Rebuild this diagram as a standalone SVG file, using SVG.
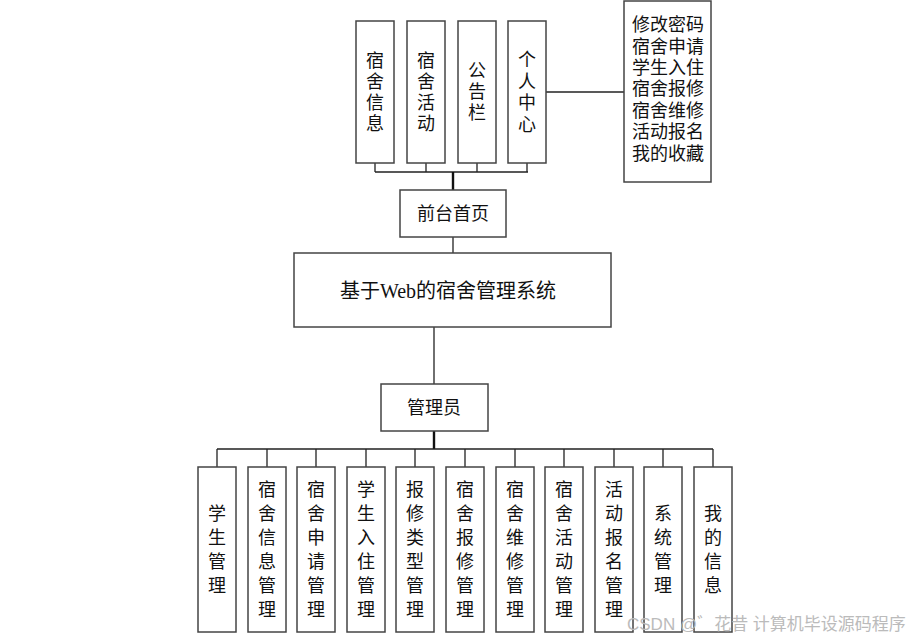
<svg xmlns="http://www.w3.org/2000/svg" width="920" height="640" viewBox="0 0 920 640">
<style>
.box{fill:#fff;stroke:#444;stroke-width:1.5}
.ln{fill:none;stroke:#222;stroke-width:1.3}
.thick{fill:none;stroke:#111;stroke-width:2.4}
text{font-family:"Liberation Serif","Noto Sans CJK SC",serif;fill:#111;text-anchor:middle}
.v{font-size:18px}
.h{font-size:18px}
.wm{font-family:"Liberation Sans","Noto Sans CJK SC",sans-serif;font-size:17px;fill:#bbb;text-anchor:start}
</style>
<rect width="920" height="640" fill="#fff"/>
<g id="connectors">
<path class="ln" d="M375 163V172M426 163V172M477 163V172M527 163V172M375 172H528"/>
<path class="thick" d="M453 172V190"/>
<path class="ln" d="M546 92H624"/>
<path class="ln" d="M453 237V253"/>
<path class="ln" d="M434 327V384"/>
<path class="thick" d="M434 431V449"/>
<path class="ln" d="M217 449H713M217 449V467M267 449V467M316 449V467M366 449V467M415 449V467M465 449V467M515 449V467M564 449V467M614 449V467M663 449V467M713 449V467"/>
</g>
<g id="n-info"><rect class="box" x="356" y="21" width="38" height="142"/><text class="v" x="375"><tspan x="375" y="67">宿</tspan><tspan x="375" y="88">舍</tspan><tspan x="375" y="109">信</tspan><tspan x="375" y="130">息</tspan></text></g>
<g id="n-act"><rect class="box" x="407" y="21" width="38" height="142"/><text class="v"><tspan x="426" y="67">宿</tspan><tspan x="426" y="88">舍</tspan><tspan x="426" y="109">活</tspan><tspan x="426" y="130">动</tspan></text></g>
<g id="n-board"><rect class="box" x="458" y="21" width="38" height="142"/><text class="v"><tspan x="477" y="77">公</tspan><tspan x="477" y="98">告</tspan><tspan x="477" y="119">栏</tspan></text></g>
<g id="n-personal"><rect class="box" x="508" y="21" width="38" height="142"/><text class="v"><tspan x="527" y="66">个</tspan><tspan x="527" y="88">人</tspan><tspan x="527" y="109">中</tspan><tspan x="527" y="131">心</tspan></text></g>
<g id="n-menu"><rect class="box" x="624" y="1" width="87" height="181"/><text class="h"><tspan x="668" y="31">修改密码</tspan><tspan x="668" y="53">宿舍申请</tspan><tspan x="668" y="74">学生入住</tspan><tspan x="668" y="95">宿舍报修</tspan><tspan x="668" y="117">宿舍维修</tspan><tspan x="668" y="138">活动报名</tspan><tspan x="668" y="160">我的收藏</tspan></text></g>
<g id="n-front"><rect class="box" x="400" y="190" width="106" height="47"/><text class="h" x="453" y="220">前台首页</text></g>
<g id="n-system"><rect class="box" x="294" y="253" width="317" height="74"/><text x="448" y="298" style="font-size:20px">基于Web的宿舍管理系统</text></g>
<g id="n-admin"><rect class="box" x="381" y="384" width="107" height="47"/><text class="h" x="434" y="414">管理员</text></g>
<g id="b1"><rect class="box" x="198" y="467" width="38" height="165"/><text class="v"><tspan x="217" y="520">学</tspan><tspan x="217" y="544">生</tspan><tspan x="217" y="568">管</tspan><tspan x="217" y="592">理</tspan></text></g>
<g id="b2"><rect class="box" x="248" y="467" width="38" height="165"/><text class="v"><tspan x="267" y="496">宿</tspan><tspan x="267" y="520">舍</tspan><tspan x="267" y="544">信</tspan><tspan x="267" y="568">息</tspan><tspan x="267" y="592">管</tspan><tspan x="267" y="616">理</tspan></text></g>
<g id="b3"><rect class="box" x="297" y="467" width="38" height="165"/><text class="v"><tspan x="316" y="496">宿</tspan><tspan x="316" y="520">舍</tspan><tspan x="316" y="544">申</tspan><tspan x="316" y="568">请</tspan><tspan x="316" y="592">管</tspan><tspan x="316" y="616">理</tspan></text></g>
<g id="b4"><rect class="box" x="347" y="467" width="38" height="165"/><text class="v"><tspan x="366" y="496">学</tspan><tspan x="366" y="520">生</tspan><tspan x="366" y="544">入</tspan><tspan x="366" y="568">住</tspan><tspan x="366" y="592">管</tspan><tspan x="366" y="616">理</tspan></text></g>
<g id="b5"><rect class="box" x="396" y="467" width="38" height="165"/><text class="v"><tspan x="415" y="496">报</tspan><tspan x="415" y="520">修</tspan><tspan x="415" y="544">类</tspan><tspan x="415" y="568">型</tspan><tspan x="415" y="592">管</tspan><tspan x="415" y="616">理</tspan></text></g>
<g id="b6"><rect class="box" x="446" y="467" width="38" height="165"/><text class="v"><tspan x="465" y="496">宿</tspan><tspan x="465" y="520">舍</tspan><tspan x="465" y="544">报</tspan><tspan x="465" y="568">修</tspan><tspan x="465" y="592">管</tspan><tspan x="465" y="616">理</tspan></text></g>
<g id="b7"><rect class="box" x="496" y="467" width="38" height="165"/><text class="v"><tspan x="515" y="496">宿</tspan><tspan x="515" y="520">舍</tspan><tspan x="515" y="544">维</tspan><tspan x="515" y="568">修</tspan><tspan x="515" y="592">管</tspan><tspan x="515" y="616">理</tspan></text></g>
<g id="b8"><rect class="box" x="545" y="467" width="38" height="165"/><text class="v"><tspan x="564" y="496">宿</tspan><tspan x="564" y="520">舍</tspan><tspan x="564" y="544">活</tspan><tspan x="564" y="568">动</tspan><tspan x="564" y="592">管</tspan><tspan x="564" y="616">理</tspan></text></g>
<g id="b9"><rect class="box" x="595" y="467" width="38" height="165"/><text class="v"><tspan x="614" y="496">活</tspan><tspan x="614" y="520">动</tspan><tspan x="614" y="544">报</tspan><tspan x="614" y="568">名</tspan><tspan x="614" y="592">管</tspan><tspan x="614" y="616">理</tspan></text></g>
<g id="b10"><rect class="box" x="644" y="467" width="38" height="165"/><text class="v"><tspan x="663" y="520">系</tspan><tspan x="663" y="544">统</tspan><tspan x="663" y="568">管</tspan><tspan x="663" y="592">理</tspan></text></g>
<g id="b11"><rect class="box" x="694" y="467" width="38" height="165"/><text class="v"><tspan x="713" y="520">我</tspan><tspan x="713" y="544">的</tspan><tspan x="713" y="568">信</tspan><tspan x="713" y="592">息</tspan></text></g>
<text class="wm" x="627" y="630">CSDN @゛花昔  计算机毕设源码程序</text>
</svg>
